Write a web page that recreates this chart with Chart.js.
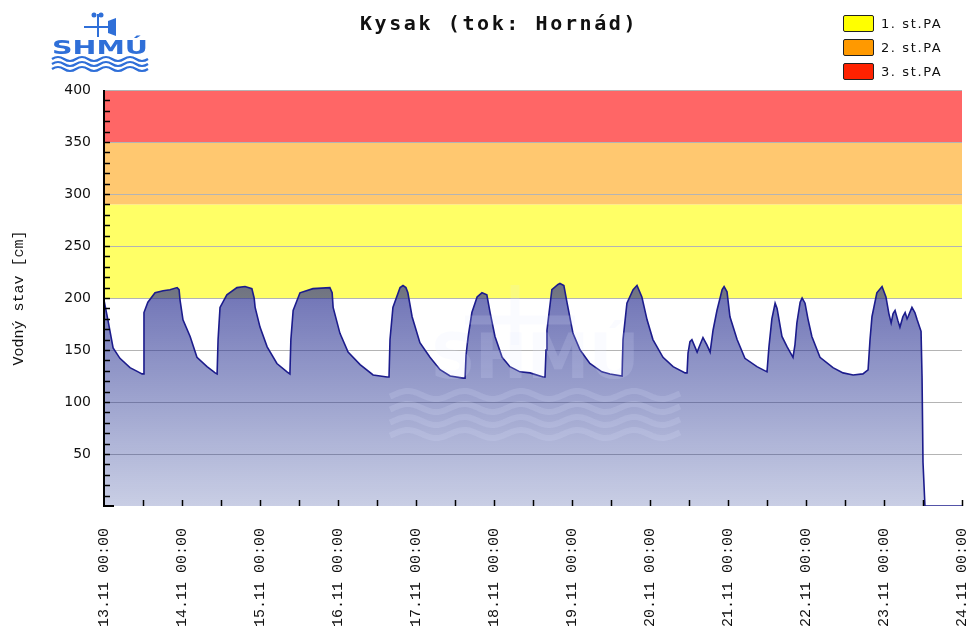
<!DOCTYPE html>
<html>
<head>
<meta charset="utf-8">
<script src="https://cdn.jsdelivr.net/npm/chart.js@4/dist/chart.umd.min.js"></script>
<style>
body{margin:0;background:#fff;}
#wrap{position:relative;width:968px;height:631px;overflow:hidden;}
#c{position:absolute;left:0;top:0;}
#title{position:absolute;left:0;width:998px;top:11px;text-align:center;font:bold 20px "DejaVu Sans Mono",monospace;letter-spacing:2.6px;color:#111;}
#logo{position:absolute;left:48px;top:10px;}
#legend{position:absolute;left:843px;top:15px;font:13px "DejaVu Sans",sans-serif;letter-spacing:1.6px;color:#111;}
.row{height:24px;display:flex;align-items:flex-start;}
.box{width:29px;height:15px;border:1.5px solid #222;border-radius:2px;margin-right:7px;}
.row span{line-height:17px;}
</style>
</head>
<body>
<div id="wrap">
<canvas id="c" width="968" height="631"></canvas>
<svg id="logo" width="104" height="66" viewBox="0 0 104 66">
  <g fill="#2f6fd8" stroke="#2f6fd8">
    <circle cx="46" cy="5" r="2.5" stroke="none"/>
    <circle cx="53" cy="5" r="2.5" stroke="none"/>
    <line x1="50" y1="4" x2="50" y2="27" stroke-width="2"/>
    <line x1="36" y1="17" x2="62" y2="17" stroke-width="2"/>
    <path d="M60 11 L68 8 L68 26 L60 23 Z" stroke="none"/>
  </g>
  <text x="52" y="44" text-anchor="middle" font-family="DejaVu Sans" font-weight="bold" font-size="20" fill="#2f6fd8" textLength="96" lengthAdjust="spacingAndGlyphs">SHMÚ</text>
  <g fill="none" stroke="#2f6fd8" stroke-width="2.2">
    <path d="M4 49 q6 -4 12 0 t12 0 t12 0 t12 0 t12 0 t12 0 t12 0 t12 0"/>
    <path d="M4 54 q6 -4 12 0 t12 0 t12 0 t12 0 t12 0 t12 0 t12 0 t12 0"/>
    <path d="M4 59 q6 -4 12 0 t12 0 t12 0 t12 0 t12 0 t12 0 t12 0 t12 0"/>
  </g>
</svg>
<div id="title">Kysak (tok: Hornád)</div>
<div id="legend"></div>
</div>
<script>
// hodiny od 13.11 00:00 a vodny stav v cm
const hours = [0,1.2,2.8,4.9,8.0,10.5,11.7,12.0,12.3,13.5,15.7,18.2,20.3,22.5,23.1,23.4,24.3,26.5,28.6,31.7,34.2,34.8,
  35.1,35.7,37.8,40.9,43.4,45.5,46.2,46.5,48.0,50.2,53.2,56.3,57.2,
  57.5,58.2,60.3,64.3,69.5,70.2,70.5,72.6,75.1,78.8,82.8,87.1,87.7,
  88.0,88.9,91.1,92.0,92.9,93.5,94.8,97.2,100.3,103.4,106.5,110.5,111.1,
  111.4,112.0,113.2,114.8,116.3,117.8,118.8,120.3,122.5,124.9,128.0,131.1,135.1,135.7,
  136.0,136.3,137.8,139.7,140.3,141.5,142.5,144.3,146.5,149.5,153.2,155.7,159.4,
  159.7,160.9,162.8,164.0,165.5,167.1,168.9,172.0,175.1,178.8,179.4,
  179.7,180.3,180.9,182.5,183.4,184.3,185.5,186.5,187.4,188.6,190.2,190.8,191.7,192.6,194.8,197.2,200.9,204.0,204.3,
  204.6,205.5,206.5,207.1,208.6,210.2,212.0,212.6,213.2,214.2,214.8,215.7,216.6,217.8,220.3,224.3,227.4,230.5,233.5,235.1,
  235.7,236.3,237.8,239.4,240.6,241.5,242.2,242.8,243.4,244.3,244.9,245.8,246.5,247.1,247.4,248.6,249.5,250.2,251.4,251.7,252.0,252.6,264];
const levels = [198,179,152,142,133,129,127,127,186,196,205,207,208,210,208,198,179,163,143,134,128,127,
  160,191,203,210,211,209,200,191,172,153,137,129,127,
  160,188,205,209,210,205,191,166,148,136,126,124,124,
  160,191,210,212,210,205,182,157,143,131,125,123,123,
  145,162,186,201,205,203,186,163,143,134,129,128,124,124,
  150,169,208,213,214,212,195,166,150,137,129,127,125,
  160,195,208,212,201,179,160,143,134,128,128,
  147,158,160,148,155,162,155,148,169,188,208,211,206,182,160,142,134,129,129,
  153,180,195,190,163,153,143,155,176,196,200,195,180,163,143,133,128,126,127,131,
  160,182,205,211,201,185,176,185,188,178,172,182,186,180,182,191,186,179,168,125,42,0,0];
const dayLabels = ["13.11 00:00","14.11 00:00","15.11 00:00","16.11 00:00","17.11 00:00","18.11 00:00",
  "19.11 00:00","20.11 00:00","21.11 00:00","22.11 00:00","23.11 00:00","24.11 00:00"];
// stupne povodnovej aktivity
const paNames = ["1. st.PA","2. st.PA","3. st.PA"];
const paFrom = [200,290,350];
const paTo = [290,350,400];
const paBand = ["#ffff66","#ffc870","#ff6666"];
const paLegend = ["#ffff00","#ff9900","#ff2200"];

const leg = document.getElementById("legend");
paNames.forEach((n,i) => {
  leg.innerHTML += `<div class="row"><div class="box" style="background:${paLegend[i]}"></div><span>${n}</span></div>`;
});

const bands = {
  id: "bands",
  beforeDraw(chart) {
    const {ctx, chartArea, scales} = chart;
    ctx.save();
    paFrom.forEach((f,i) => {
      const y1 = scales.y.getPixelForValue(paTo[i]);
      const y2 = scales.y.getPixelForValue(f);
      ctx.fillStyle = paBand[i];
      ctx.fillRect(chartArea.left, y1, chartArea.right - chartArea.left, y2 - y1);
    });
    ctx.restore();
  }
};

// slaby vodoznak loga v strede grafu
const watermark = {
  id: "watermark",
  afterDatasetsDraw(chart) {
    const {ctx, chartArea} = chart;
    const cx = (chartArea.left + chartArea.right) / 2 + 2;
    ctx.save();
    ctx.globalAlpha = 0.16;
    ctx.fillStyle = "#dfe8ff";
    ctx.strokeStyle = "#dfe8ff";
    ctx.font = "bold 62px 'DejaVu Sans'";
    ctx.textAlign = "center";
    ctx.fillText("SHMÚ", cx, 378);
    ctx.lineWidth = 9;
    ctx.beginPath();
    ctx.moveTo(cx - 20, 285); ctx.lineTo(cx - 20, 345);
    ctx.moveTo(cx - 70, 320); ctx.lineTo(cx + 40, 320);
    ctx.stroke();
    ctx.lineWidth = 6;
    for (let r = 0; r < 4; r++) {
      ctx.beginPath();
      const y = 395 + r * 13;
      for (let x = cx - 145; x <= cx + 145; x += 2) {
        const yy = y + 4 * Math.sin((x - cx) / 9);
        if (x === cx - 145) ctx.moveTo(x, yy); else ctx.lineTo(x, yy);
      }
      ctx.stroke();
    }
    ctx.restore();
  }
};

const axes = {
  id: "axes",
  afterDatasetsDraw(chart) {
    const {ctx, chartArea, scales} = chart;
    const l = chartArea.left, b = chartArea.bottom;
    ctx.save();
    ctx.strokeStyle = "#000";
    ctx.lineWidth = 1.5;
    ctx.beginPath();
    for (let v = 10; v < 400; v += 10) {
      const y = Math.round(scales.y.getPixelForValue(v)) + 0.5;
      ctx.moveTo(l, y); ctx.lineTo(l + 6, y);
    }
    for (let h = 12; h <= 264; h += 12) {
      const x = Math.round(scales.x.getPixelForValue(h)) + 0.5;
      ctx.moveTo(x, b); ctx.lineTo(x, b - 6);
    }
    ctx.stroke();
    ctx.lineWidth = 2;
    ctx.beginPath();
    ctx.moveTo(l, chartArea.top); ctx.lineTo(l, b); ctx.lineTo(l + 10, b);
    ctx.stroke();
    ctx.restore();
  }
};

new Chart(document.getElementById("c"), {
  type: "line",
  data: {
    datasets: [{
      data: hours.map((h,i) => ({x: h, y: levels[i]})),
      borderColor: "#1c1c8c",
      borderWidth: 1.6,
      pointRadius: 0,
      tension: 0,
      fill: "origin",
      backgroundColor: c => {
        const ch = c.chart;
        if (!ch.chartArea) return "rgba(40,50,150,0.5)";
        const g = ch.ctx.createLinearGradient(0, ch.scales.y.getPixelForValue(215), 0, ch.chartArea.bottom);
        g.addColorStop(0, "rgba(40,45,145,0.68)");
        g.addColorStop(1, "rgba(40,60,150,0.25)");
        return g;
      }
    }]
  },
  options: {
    responsive: false,
    animation: false,
    layout: {padding: {top: 90, right: 6, left: 0, bottom: 0}},
    plugins: {legend: {display: false}, tooltip: {enabled: false}},
    scales: {
      x: {
        type: "linear", min: 0, max: 264,
        afterFit: s => { s.height = 125; s.paddingLeft = 0; s.paddingRight = 0; },
        grid: {display: false},
        border: {display: false},
        ticks: {
          stepSize: 24, autoSkip: false, maxRotation: 90, minRotation: 90, padding: 14,
          color: "#111", font: {family: "Liberation Mono", size: 15},
          callback: v => dayLabels[Math.round(v / 24)]
        }
      },
      y: {
        min: 0, max: 400,
        afterFit: s => { s.width = 104; s.paddingTop = 0; s.paddingBottom = 0; },
        border: {display: false},
        grid: {color: c => c.tick.value === 0 ? "rgba(0,0,0,0)" : "#b4b4b4", drawTicks: false},
        ticks: {
          stepSize: 50, padding: 13, color: "#111",
          font: {family: "DejaVu Sans", size: 14},
          callback: v => v === 0 ? "" : v
        },
        title: {
          display: true, text: "Vodný stav [cm]", color: "#111",
          font: {family: "Liberation Mono", size: 15},
          padding: {top: 10, bottom: 0}
        }
      }
    }
  },
  plugins: [bands, watermark, axes]
});
</script>
</body>
</html>
